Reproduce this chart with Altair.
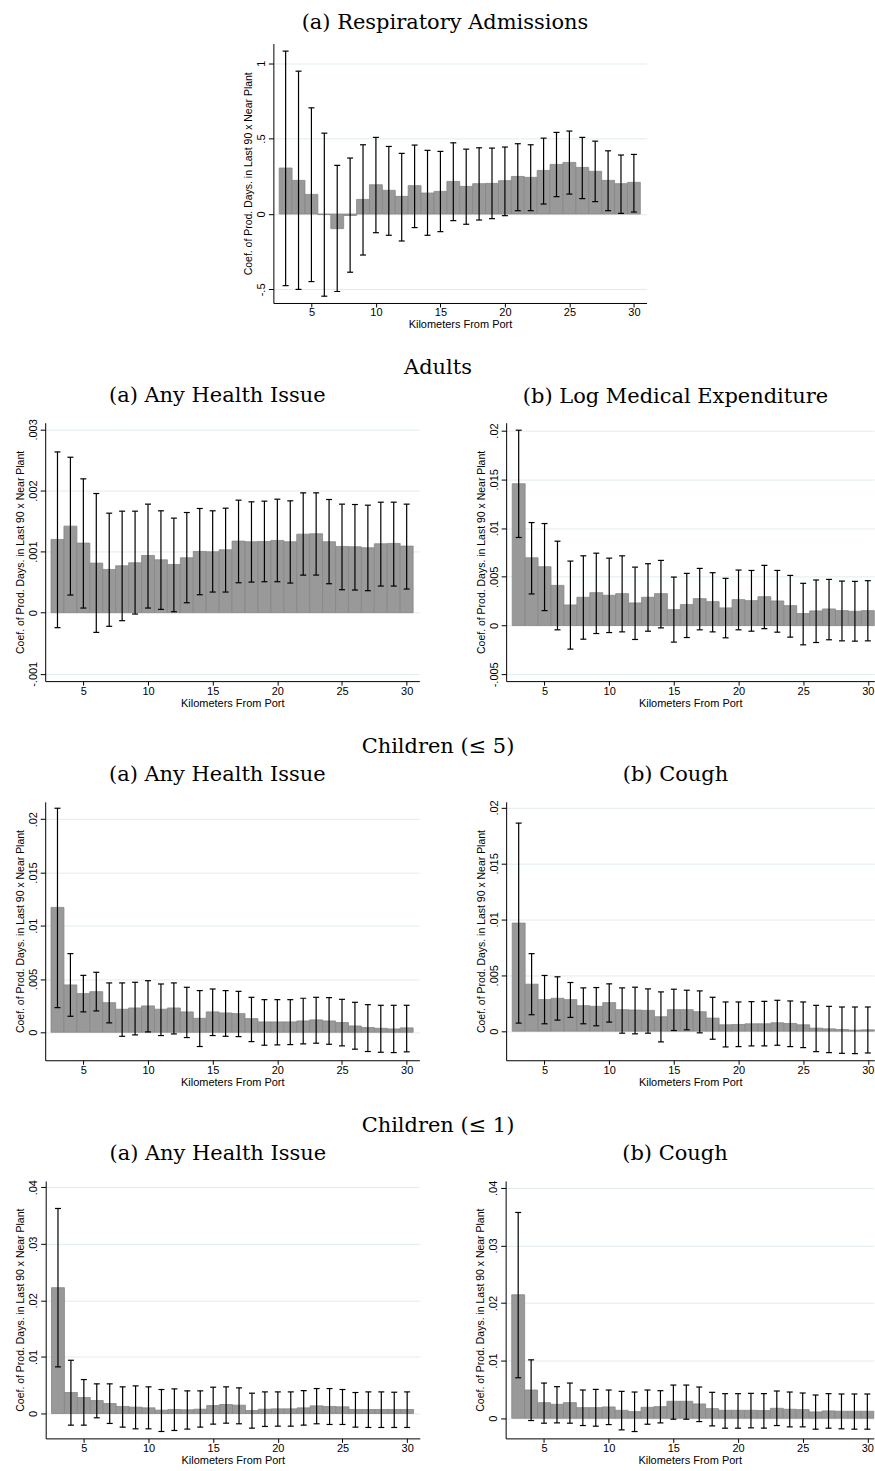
import altair as alt
import pandas as pd

km = list(range(3, 31))
x_ticks = [5, 10, 15, 20, 25, 30]

# (a) Respiratory Admissions
resp_coef = [0.305, 0.223, 0.130, -0.004, -0.097, -0.010, 0.097, 0.194, 0.157, 0.117, 0.188, 0.139, 0.150, 0.216,
             0.183, 0.201, 0.203, 0.221, 0.249, 0.243, 0.289, 0.329, 0.342, 0.309, 0.283, 0.223, 0.201, 0.210]
resp_hi = [1.080, 0.947, 0.704, 0.536, 0.322, 0.371, 0.459, 0.508, 0.448, 0.402, 0.457, 0.422, 0.415, 0.472,
           0.430, 0.439, 0.437, 0.444, 0.466, 0.459, 0.503, 0.541, 0.550, 0.508, 0.483, 0.419, 0.391, 0.395]
resp_lo = [-0.475, -0.500, -0.448, -0.545, -0.514, -0.386, -0.272, -0.124, -0.141, -0.179, -0.090, -0.141, -0.117, -0.044,
           -0.068, -0.040, -0.031, -0.011, 0.022, 0.022, 0.066, 0.115, 0.132, 0.102, 0.082, 0.022, 0.004, 0.013]
resp_yticks = [-0.5, 0, 0.5, 1]

# Adults (a) Any Health Issue
ad_any_coef = [0.001199, 0.001417, 0.001139, 0.000812, 0.000708, 0.000768, 0.000817, 0.000937, 0.000866, 0.000790,
               0.000899, 0.001003, 0.000997, 0.001030, 0.001172, 0.001161, 0.001166, 0.001183, 0.001161, 0.001286,
               0.001292, 0.001161, 0.001084, 0.001079, 0.001063, 0.001128, 0.001134, 0.001090]
ad_any_hi = [0.002632, 0.002545, 0.002191, 0.001951, 0.001629, 0.001662, 0.001662, 0.001777, 0.001668, 0.001548,
             0.001640, 0.001706, 0.001668, 0.001711, 0.001842, 0.001815, 0.001826, 0.001858, 0.001831, 0.001962,
             0.001962, 0.001853, 0.001777, 0.001771, 0.001760, 0.001809, 0.001809, 0.001777]
ad_any_lo = [-0.000245, 0.000289, 0.000076, -0.000322, -0.000223, -0.000131, -0.000022, 0.000076, 0.000054, 0.000016,
             0.000163, 0.000294, 0.000338, 0.000338, 0.000490, 0.000501, 0.000507, 0.000507, 0.000485, 0.000616,
             0.000616, 0.000474, 0.000376, 0.000371, 0.000360, 0.000436, 0.000436, 0.000387]
ad_any_yticks = [-0.001, 0, 0.001, 0.002, 0.003]

# Adults (b) Log Medical Expenditure
ad_med_coef = [0.01454, 0.00695, 0.00603, 0.00412, 0.00211, 0.00290, 0.00337, 0.00310, 0.00327, 0.00232,
               0.00290, 0.00327, 0.00163, 0.00215, 0.00276, 0.00245, 0.00181, 0.00266, 0.00255, 0.00296,
               0.00252, 0.00204, 0.00123, 0.00150, 0.00170, 0.00153, 0.00146, 0.00153]
ad_med_hi = [0.02003, 0.01056, 0.01046, 0.00865, 0.00661, 0.00715, 0.00742, 0.00691, 0.00715, 0.00599,
             0.00634, 0.00668, 0.00497, 0.00535, 0.00586, 0.00542, 0.00484, 0.00569, 0.00565, 0.00616,
             0.00565, 0.00514, 0.00433, 0.00467, 0.00473, 0.00456, 0.00453, 0.00460]
ad_med_lo = [0.00903, 0.00324, 0.00153, -0.00044, -0.00242, -0.00140, -0.00082, -0.00072, -0.00065, -0.00143,
             -0.00058, -0.00024, -0.00170, -0.00123, -0.00044, -0.00065, -0.00126, -0.00044, -0.00058, -0.00031,
             -0.00068, -0.00119, -0.00198, -0.00174, -0.00146, -0.00157, -0.00160, -0.00157]
ad_med_yticks = [-0.005, 0, 0.005, 0.01, 0.015, 0.02]

# Children (<=5) (a) Any Health Issue
c5_any_coef = [0.01172, 0.00444, 0.00363, 0.00381, 0.00278, 0.00216, 0.00228, 0.00247, 0.00216, 0.00228,
               0.00191, 0.00131, 0.00191, 0.00181, 0.00175, 0.00128, 0.00097, 0.00097, 0.00097, 0.00106,
               0.00116, 0.00106, 0.00091, 0.00059, 0.00044, 0.00037, 0.00031, 0.00041]
c5_any_hi = [0.02103, 0.00738, 0.00534, 0.00563, 0.00463, 0.00463, 0.00469, 0.00484, 0.00453, 0.00463,
             0.00422, 0.00391, 0.00406, 0.00391, 0.00384, 0.00328, 0.00306, 0.00306, 0.00306, 0.00319,
             0.00328, 0.00325, 0.00309, 0.00281, 0.00259, 0.00253, 0.00253, 0.00253]
c5_any_lo = [0.00231, 0.00150, 0.00191, 0.00200, 0.00088, -0.00038, -0.00025, 0.00003, -0.00031, -0.00016,
             -0.00050, -0.00134, -0.00031, -0.00038, -0.00041, -0.00088, -0.00122, -0.00119, -0.00116, -0.00109,
             -0.00103, -0.00113, -0.00128, -0.00159, -0.00181, -0.00188, -0.00191, -0.00184]
c5_yticks = [0, 0.005, 0.01, 0.015, 0.02]

# Children (<=5) (b) Cough
c5_cough_coef = [0.00966, 0.00420, 0.00282, 0.00294, 0.00282, 0.00228, 0.00222, 0.00255, 0.00192, 0.00189,
                 0.00186, 0.00129, 0.00192, 0.00192, 0.00174, 0.00117, 0.00057, 0.00060, 0.00066, 0.00066,
                 0.00075, 0.00069, 0.00057, 0.00027, 0.00021, 0.00015, 0.00009, 0.00012]
c5_cough_hi = [0.01860, 0.00693, 0.00498, 0.00486, 0.00435, 0.00387, 0.00390, 0.00423, 0.00387, 0.00393,
               0.00378, 0.00351, 0.00375, 0.00366, 0.00360, 0.00303, 0.00261, 0.00261, 0.00264, 0.00267,
               0.00276, 0.00270, 0.00261, 0.00231, 0.00222, 0.00216, 0.00216, 0.00216]
c5_cough_lo = [0.00072, 0.00147, 0.00066, 0.00099, 0.00123, 0.00066, 0.00048, 0.00081, -0.00018, -0.00024,
               -0.00018, -0.00096, 0.00006, 0.00012, -0.00015, -0.00072, -0.00141, -0.00138, -0.00132, -0.00132,
               -0.00126, -0.00138, -0.00147, -0.00183, -0.00192, -0.00198, -0.00201, -0.00195]

# Children (<=1) (a) Any Health Issue
c1_any_coef = [0.02224, 0.00371, 0.00282, 0.00229, 0.00176, 0.00124, 0.00112, 0.00100, 0.00059, 0.00071,
               0.00065, 0.00076, 0.00141, 0.00159, 0.00147, 0.00053, 0.00076, 0.00082, 0.00082, 0.00100,
               0.00135, 0.00124, 0.00118, 0.00071, 0.00071, 0.00071, 0.00071, 0.00071]
c1_any_hi = [0.03624, 0.00941, 0.00600, 0.00524, 0.00524, 0.00471, 0.00488, 0.00471, 0.00424, 0.00435,
             0.00400, 0.00400, 0.00465, 0.00471, 0.00453, 0.00359, 0.00382, 0.00382, 0.00382, 0.00406,
             0.00441, 0.00441, 0.00424, 0.00371, 0.00382, 0.00382, 0.00376, 0.00382]
c1_any_lo = [0.00824, -0.00206, -0.00206, -0.00076, -0.00176, -0.00241, -0.00271, -0.00271, -0.00318, -0.00300,
             -0.00276, -0.00241, -0.00188, -0.00171, -0.00182, -0.00259, -0.00229, -0.00224, -0.00224, -0.00206,
             -0.00182, -0.00194, -0.00194, -0.00241, -0.00247, -0.00247, -0.00247, -0.00247]
c1_yticks = [0, 0.01, 0.02, 0.03, 0.04]

# Children (<=1) (b) Cough
c1_cough_coef = [0.02144, 0.00490, 0.00271, 0.00242, 0.00271, 0.00184, 0.00184, 0.00196, 0.00138, 0.00115,
                 0.00190, 0.00202, 0.00294, 0.00294, 0.00248, 0.00167, 0.00138, 0.00138, 0.00138, 0.00133,
                 0.00173, 0.00156, 0.00150, 0.00110, 0.00127, 0.00121, 0.00121, 0.00121]
c1_cough_hi = [0.03573, 0.01014, 0.00611, 0.00548, 0.00611, 0.00490, 0.00501, 0.00490, 0.00467, 0.00455,
               0.00490, 0.00478, 0.00576, 0.00576, 0.00542, 0.00450, 0.00427, 0.00427, 0.00432, 0.00427,
               0.00473, 0.00455, 0.00438, 0.00403, 0.00427, 0.00421, 0.00421, 0.00421]
c1_cough_lo = [0.00703, -0.00040, -0.00086, -0.00081, -0.00086, -0.00127, -0.00138, -0.00110, -0.00202, -0.00231,
               -0.00104, -0.00081, -0.00017, -0.00017, -0.00058, -0.00133, -0.00173, -0.00173, -0.00167, -0.00173,
               -0.00127, -0.00150, -0.00150, -0.00190, -0.00173, -0.00184, -0.00190, -0.00190]

Y_TITLE = "Coef. of Prod. Days. in Last 90 x Near Plant"
X_TITLE = "Kilometers From Port"
SERIF = "DejaVu Serif"
SANS = "Liberation Sans"
LABEL_EXPR = "replace(toString(datum.value), '0.', '.')"


def panel(coef, lo, hi, ydom, yticks, title, width, xdom, height, offset):
    df = pd.DataFrame({"km": km, "coef": coef, "lo": lo, "hi": hi})
    base = alt.Chart(df).transform_calculate(x0="datum.km - 0.5", x1="datum.km + 0.5")
    xscale = alt.Scale(domain=xdom, nice=False, zero=False)
    yscale = alt.Scale(domain=ydom, nice=False, zero=False)
    bars = base.mark_bar(fill="#999999", stroke="#868686", strokeWidth=0.8, opacity=1).encode(
        x=alt.X("x0:Q", scale=xscale,
                axis=alt.Axis(values=x_ticks, title=X_TITLE, grid=False, labelAngle=0,
                              tickSize=4, labelPadding=0, titlePadding=1)),
        x2="x1:Q",
        y=alt.Y("coef:Q", scale=yscale,
                axis=alt.Axis(values=yticks, title=Y_TITLE, grid=True, gridColor="#E2ECEF",
                              labelExpr=LABEL_EXPR, labelAngle=270, labelAlign="center",
                              labelBaseline="bottom", tickSize=5, labelPadding=2,
                              titlePadding=2, titleFontSize=10.5)),
        y2=alt.datum(0),
    )
    rules = base.mark_rule(color="black", strokeWidth=1.2).encode(
        x="km:Q", y="lo:Q", y2="hi:Q")
    cap_hi = base.mark_tick(orient="horizontal", color="black", size=6, thickness=1.2, opacity=1).encode(
        x="km:Q", y="hi:Q")
    cap_lo = base.mark_tick(orient="horizontal", color="black", size=6, thickness=1.2, opacity=1).encode(
        x="km:Q", y="lo:Q")
    return alt.layer(bars, rules, cap_hi, cap_lo).properties(
        width=width, height=height,
        title=alt.Title(title, font=SERIF, fontSize=21, fontWeight="normal", color="black",
                        anchor="middle", frame="bounds", baseline="alphabetic", offset=offset),
    )


LW, LDOM = 375, [2.05, 30.98]
RW, RDOM = 369, [2.03, 30.5]

top = panel(resp_coef, resp_lo, resp_hi, [-0.59, 1.13], resp_yticks,
            "(a) Respiratory Admissions", 374, LDOM, 260, -6)

row_title = dict(font=SERIF, fontSize=21, fontWeight="normal", color="black",
                 anchor="middle", baseline="alphabetic", offset=-10, dx=-7)

adults = alt.hconcat(
    panel(ad_any_coef, ad_any_lo, ad_any_hi, [-0.00112, 0.00311], ad_any_yticks,
          "(a) Any Health Issue", LW, LDOM, 259, -4),
    panel(ad_med_coef, ad_med_lo, ad_med_hi, [-0.0057, 0.0208], ad_med_yticks,
          "(b) Log Medical Expenditure", RW, RDOM, 259, -1),
    spacing=56,
    title=alt.Title("Adults", **row_title),
)

kids5 = alt.hconcat(
    panel(c5_any_coef, c5_any_lo, c5_any_hi, [-0.00263, 0.02163], c5_yticks,
          "(a) Any Health Issue", LW, LDOM, 259, 0),
    panel(c5_cough_coef, c5_cough_lo, c5_cough_hi, [-0.0026, 0.0205], c5_yticks,
          "(b) Cough", RW, RDOM, 259, -2),
    spacing=56,
    title=alt.Title("Children (\u2264 5)", **row_title),
)

kids1 = alt.hconcat(
    panel(c1_any_coef, c1_any_lo, c1_any_hi, [-0.0044, 0.0411], c1_yticks,
          "(a) Any Health Issue", LW, LDOM, 258, -1),
    panel(c1_cough_coef, c1_cough_lo, c1_cough_hi, [-0.0035, 0.0412], c1_yticks,
          "(b) Cough", RW, RDOM, 258, -1),
    spacing=56,
    title=alt.Title("Children (\u2264 1)", **row_title),
)

chart = alt.vconcat(top, adults, kids5, kids1, spacing=27, center=True).properties(
    padding={"left": 15, "top": 10, "right": 0, "bottom": 0},
    background="white",
).configure_view(stroke=None).configure_axis(
    labelFont=SANS, titleFont=SANS, labelFontSize=11, titleFontSize=11,
    titleFontWeight="normal", labelColor="black", titleColor="black",
    domainColor="black", domainWidth=1, tickColor="black", tickWidth=1,
)

chart.save("out.html", embed_options={"renderer": "svg", "actions": False})
